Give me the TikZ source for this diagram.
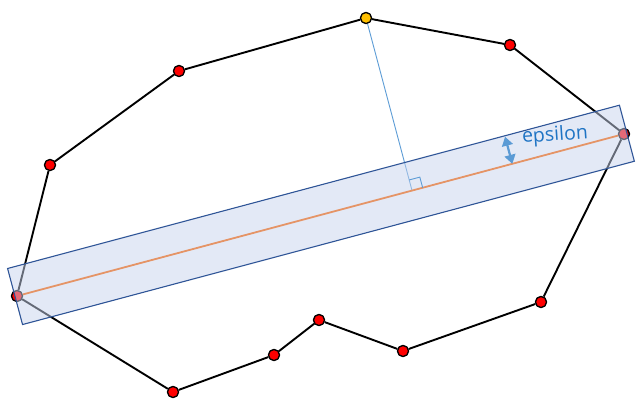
\documentclass[tikz,border=0pt]{standalone}
\usepackage{fontspec}
\setmainfont{Open Sans}
\usepackage{xcolor}
\usetikzlibrary{calc, arrows.meta}
\definecolor{cEDGE}{HTML}{000000}
\definecolor{cPT}{HTML}{FF0000}
\definecolor{cFAR}{HTML}{FFC000}
\definecolor{cBAND}{HTML}{C8D4EE}
\definecolor{cBANDLINE}{HTML}{2F5597}
\definecolor{cBASE}{HTML}{E59466}
\definecolor{cPERP}{HTML}{5B9BD5}
\definecolor{cEPS}{HTML}{1F74C4}
\tikzset{
  pt/.style={
    circle, draw=black, line width=1.2pt,
    fill=#1, inner sep=0pt,
    minimum size=11pt
  },
  hull/.style={
    line width=1.9pt,
    draw=cEDGE
  },
  band/.style={
    draw=cBANDLINE, line width=1.1pt,
    fill=cBAND, fill opacity=0.5
  },
  baseline/.style={
    draw=cBASE, line width=1.8pt
  },
  perp/.style={
    draw=cPERP, line width=0.9pt
  },
  epsarrow/.style={
    {Triangle[length=9pt,width=11pt]}-{Triangle[length=9pt,width=11pt]},
    draw=cPERP, fill=cPERP, line width=2.2pt
  },
  epslabel/.style={
    font=\fontsize{19.5}{22}\selectfont,
    text=cEPS,
    inner sep=1pt
  }
}

\begin{document}
\begin{tikzpicture}[x=1pt, y=-1pt]
  \useasboundingbox (0,0) rectangle (641,405);

  % hull points
  \node[pt=cPT] (q1) at (17,296) {};
  \node[pt=cPT] (q2) at (50,165) {};
  \node[pt=cPT] (q3) at (179,71) {};
  \node[pt=cFAR] (q4) at (366,18) {};
  \node[pt=cPT] (q5) at (510,45) {};
  \node[pt=cPT] (q6) at (624,134) {};
  \node[pt=cPT] (q7) at (541,302) {};
  \node[pt=cPT] (q8) at (403,351) {};
  \node[pt=cPT] (q9) at (319,320) {};
  \node[pt=cPT] (q10) at (274,355) {};
  \node[pt=cPT] (q11) at (173,392) {};

  % polygon
  \draw[hull] (q1) -- (q2) -- (q3) -- (q4) -- (q5) -- (q6) -- (q7) -- (q8) -- (q9) -- (q10) -- (q11) -- (q1);

  % points again on top of edges
  \foreach \i in {1,2,3,5,6,7,8,9,10,11}
    \node[pt=cPT] at (q\i) {};

  % perpendicular from the far point
  \coordinate (foot) at ($(q1)!(q4)!(q6)$);
  \draw[perp] (q4) -- (foot);
  \node[pt=cFAR] at (q4) {};

  % epsilon band
  \coordinate (ea) at ($(q1)!-2pt!(q6)$);
  \coordinate (eb) at ($(q6)!-3pt!(q1)$);
  \coordinate (tl) at ($(ea)!29pt!90:(eb)$);
  \coordinate (bl) at ($(ea)!29pt!-90:(eb)$);
  \coordinate (tr) at ($(eb)!29pt!-90:(ea)$);
  \coordinate (br) at ($(eb)!29pt!90:(ea)$);
  \path[band] (tl) -- (tr) -- (br) -- (bl) -- cycle;

  \draw[baseline] (q1) -- (q6);

  % right angle mark
  \coordinate (ra) at ($(foot)!11pt!(q4)$);
  \coordinate (rb) at ($(foot)!11pt!(q6)$);
  \draw[perp] (ra) -- ($(ra)+(rb)-(foot)$) -- (rb);

  % epsilon
  \coordinate (eps1) at ($(q1)!0.816!(q6)$);
  \coordinate (eps2) at ($(eps1)!28pt!90:(q6)$);
  \draw[epsarrow] (eps1) -- (eps2);
  \node[epslabel, rotate=4, anchor=west] (epstext) at (521,138) {epsilon};
\end{tikzpicture}
\end{document}
